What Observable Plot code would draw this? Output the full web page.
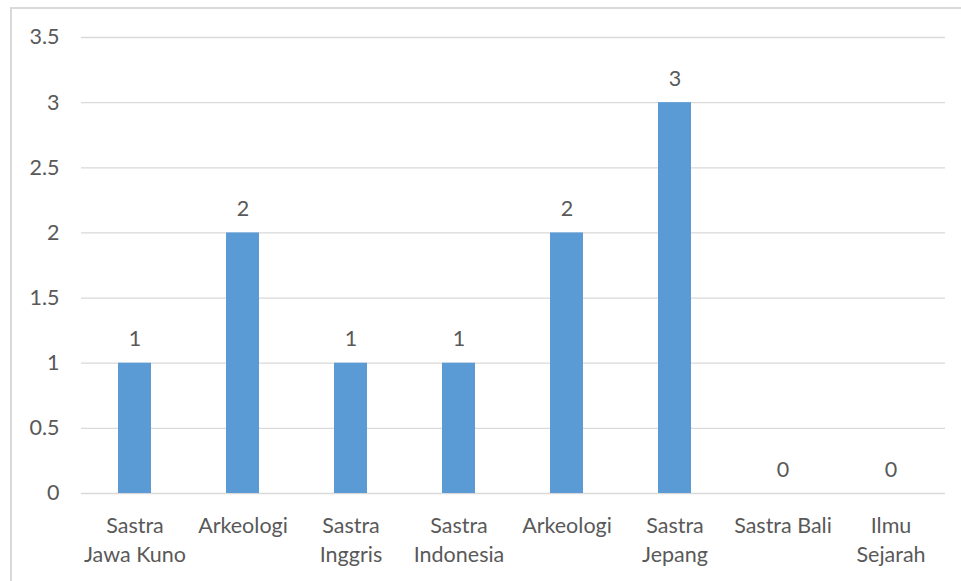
<!DOCTYPE html>
<html>
<head>
<meta charset="utf-8">
<script src="https://cdn.jsdelivr.net/npm/d3@7"></script>
<script src="https://cdn.jsdelivr.net/npm/@observablehq/plot@0.6"></script>
<style>
  html, body { margin: 0; padding: 0; background: #fff; overflow: hidden; }
  #wrap { position: relative; width: 961px; height: 581px; }
  #frame { position: absolute; left: 10px; top: 7px; width: 1000px; height: 1000px;
           border: 2px solid #d9d9d9; box-sizing: border-box; }
  #chart { position: absolute; left: 0; top: 0; }
</style>
</head>
<body>
<div id="wrap">
  <div id="frame"></div>
  <div id="chart"></div>
</div>
<script>
// Study programmes (two separate "Arkeologi" entries) and their counts
const categories = [
  "Sastra\nJawa Kuno",
  "Arkeologi",
  "Sastra\nInggris",
  "Sastra\nIndonesia",
  "Arkeologi",
  "Sastra\nJepang",
  "Sastra Bali",
  "Ilmu\nSejarah"
];
const counts = [1, 2, 1, 1, 2, 3, 0, 0];
const yTicks = [0, 0.5, 1, 1.5, 2, 2.5, 3, 3.5];

const rows = categories.map((label, i) => ({ i, label, value: counts[i] }));
const textColor = "#595959";

const chart = Plot.plot({
  width: 961,
  height: 581,
  marginLeft: 81,
  marginRight: 16,
  marginTop: 37,
  marginBottom: 88,
  style: {
    fontFamily: "Lato, 'Open Sans', sans-serif",
    fontSize: "21.5px",
    color: textColor,
    background: "transparent",
    overflow: "visible"
  },
  x: { type: "band", domain: d3.range(categories.length), paddingInner: 0.69, paddingOuter: 0.345 },
  y: { domain: [0, 3.5] },
  marks: [
    Plot.ruleY(yTicks, { stroke: "#d9d9d9", strokeWidth: 1.3 }),
    Plot.barY(rows, { x: "i", y: "value", fill: "#5b9bd5" }),
    Plot.text(rows, {
      x: "i", y: "value", text: (d) => String(d.value),
      lineAnchor: "bottom", dy: -17, fill: textColor
    }),
    Plot.axisY({
      ticks: yTicks, tickSize: 0, tickPadding: 22,
      tickFormat: (d) => String(d), label: null, fill: textColor
    }),
    Plot.axisX({
      tickSize: 0, tickPadding: 19, lineHeight: 1.35,
      tickFormat: (i) => categories[i], label: null, fill: textColor
    })
  ]
});

document.getElementById("chart").appendChild(chart);
</script>
</body>
</html>
